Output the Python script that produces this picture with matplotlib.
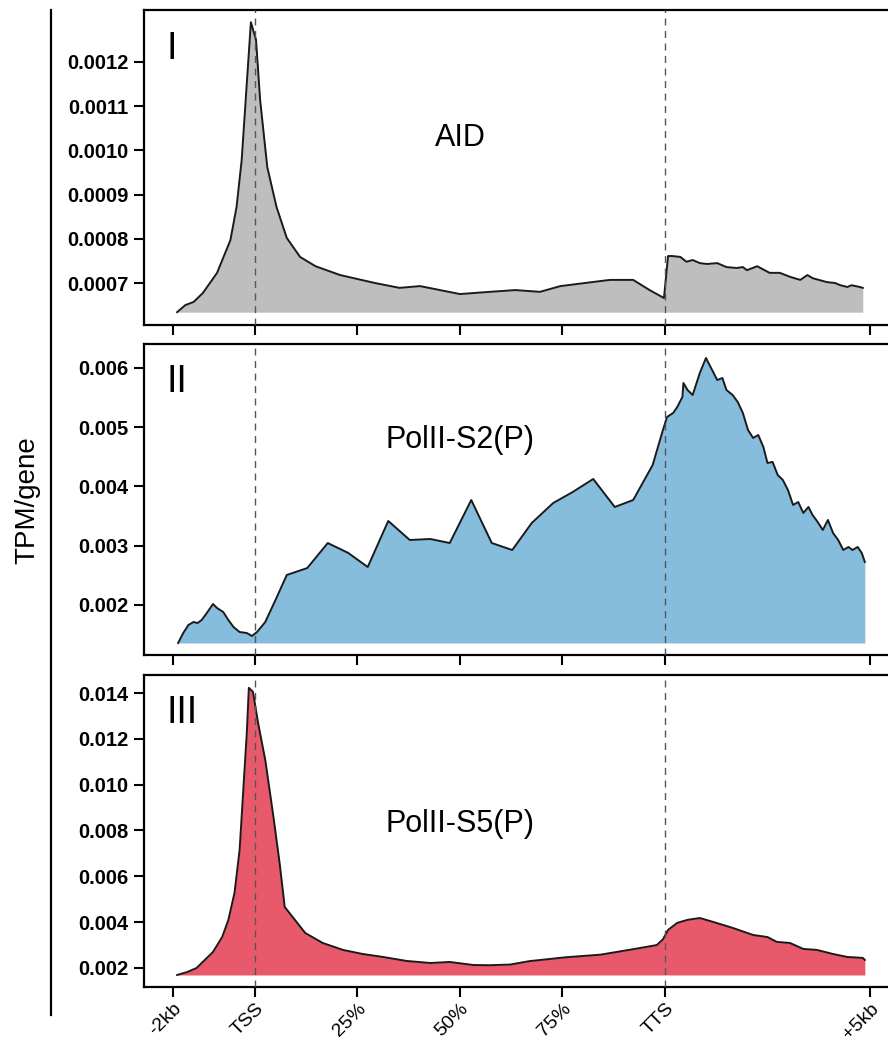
import numpy as np
import matplotlib
matplotlib.use("Agg")
import matplotlib.pyplot as plt
from matplotlib.lines import Line2D

plt.rcParams['font.family'] = ['Liberation Sans', 'DejaVu Sans']

# x positions: TSS = 0, gene body quarters = 1..4 (TTS = 4), -2kb = -0.8, +5kb = 6
tick_pos = [-0.8, 0, 1, 2, 3, 4, 6]
tick_labels = ["-2kb", "TSS", "25%", "50%", "75%", "TTS", "+5kb"]

# panel I : AID
x_aid = [-0.76, -0.68, -0.60, -0.51, -0.37, -0.24, -0.18, -0.13, -0.08, -0.04,
         0.01, 0.05, 0.12, 0.21, 0.31, 0.44, 0.59, 0.83, 1.17, 1.41,
         1.61, 2.00, 2.29, 2.54, 2.78, 2.98, 3.22, 3.46, 3.69, 3.85,
         3.99, 4.03, 4.07, 4.15, 4.21, 4.27, 4.34, 4.41, 4.51, 4.60,
         4.70, 4.76, 4.80, 4.90, 5.02, 5.12, 5.22, 5.32, 5.39, 5.44,
         5.58, 5.66, 5.71, 5.78, 5.82, 5.90, 5.93]
y_aid = [0.000634, 0.000650, 0.000657, 0.000677, 0.000723, 0.000797, 0.000872, 0.000978, 0.001152, 0.001290,
         0.001250, 0.001114, 0.000962, 0.000872, 0.000802, 0.000759, 0.000738, 0.000718, 0.000700, 0.000689,
         0.000693, 0.000675, 0.000680, 0.000684, 0.000680, 0.000693, 0.000700, 0.000707, 0.000707, 0.000684,
         0.000666, 0.000761, 0.000761, 0.000759, 0.000748, 0.000752, 0.000745, 0.000743, 0.000745, 0.000736,
         0.000734, 0.000736, 0.000729, 0.000738, 0.000723, 0.000723, 0.000714, 0.000707, 0.000718, 0.000711,
         0.000702, 0.000700, 0.000695, 0.000691, 0.000695, 0.000691, 0.000689]

# panel II : PolII-S2(P)
x_s2 = [-0.75, -0.70, -0.65, -0.60, -0.56, -0.52, -0.47, -0.41, -0.37, -0.31,
        -0.26, -0.21, -0.15, -0.08, -0.03, 0.02, 0.10, 0.20, 0.31, 0.51,
        0.71, 0.91, 1.10, 1.30, 1.51, 1.71, 1.90, 2.11, 2.31, 2.51,
        2.70, 2.91, 3.10, 3.30, 3.51, 3.69, 3.88, 3.98, 4.02, 4.05,
        4.08, 4.12, 4.17, 4.18, 4.22, 4.27, 4.34, 4.40, 4.46, 4.51,
        4.56, 4.60, 4.66, 4.71, 4.76, 4.81, 4.86, 4.91, 4.96, 5.00,
        5.05, 5.10, 5.15, 5.20, 5.25, 5.30, 5.35, 5.40, 5.44, 5.49,
        5.54, 5.59, 5.64, 5.69, 5.74, 5.79, 5.83, 5.88, 5.92, 5.95]
y_s2 = [0.001359, 0.001527, 0.001662, 0.001713, 0.001696, 0.001747, 0.001865, 0.002017, 0.001949, 0.001882,
        0.001747, 0.001629, 0.001544, 0.001527, 0.001477, 0.001544, 0.001713, 0.002084, 0.002506, 0.002624,
        0.003046, 0.002878, 0.002641, 0.003418, 0.003097, 0.003114, 0.003046, 0.003772, 0.003046, 0.002928,
        0.003384, 0.003722, 0.003907, 0.004127, 0.003654, 0.003772, 0.004363, 0.004954, 0.005173, 0.005207,
        0.005241, 0.005342, 0.005511, 0.005747, 0.005629, 0.005544, 0.005916, 0.006169, 0.005966, 0.005797,
        0.005831, 0.005629, 0.005544, 0.005426, 0.005241, 0.004954, 0.004819, 0.004869, 0.004667, 0.004397,
        0.004414, 0.004194, 0.004110, 0.003941, 0.003688, 0.003738, 0.003553, 0.003654, 0.003519, 0.003401,
        0.003266, 0.003435, 0.003215, 0.003097, 0.002928, 0.002979, 0.002928, 0.002979, 0.002878, 0.002726]

# panel III : PolII-S5(P)
x_s5 = [-0.76, -0.66, -0.57, -0.49, -0.41, -0.32, -0.26, -0.20, -0.15, -0.11,
        -0.08, -0.06, -0.02, 0.03, 0.10, 0.18, 0.24, 0.29, 0.39, 0.49,
        0.66, 0.86, 1.05, 1.25, 1.48, 1.71, 1.90, 2.13, 2.29, 2.49,
        2.68, 3.04, 3.37, 3.69, 3.92, 3.98, 4.03, 4.12, 4.22, 4.34,
        4.47, 4.66, 4.86, 5.00, 5.09, 5.22, 5.35, 5.48, 5.64, 5.78,
        5.93, 5.95]
y_s5 = [0.001694, 0.001825, 0.002000, 0.002349, 0.002699, 0.003354, 0.004096, 0.005275, 0.007153, 0.010079,
        0.012262, 0.014227, 0.014052, 0.012699, 0.011083, 0.008594, 0.006585, 0.004664, 0.004096, 0.003528,
        0.003092, 0.002786, 0.002611, 0.002480, 0.002306, 0.002218, 0.002262, 0.00213, 0.00212, 0.00215,
        0.00230, 0.00247, 0.00258, 0.00282, 0.00300, 0.00325, 0.00366, 0.00397, 0.00410, 0.00418,
        0.00401, 0.00375, 0.00344, 0.00335, 0.00314, 0.00309, 0.00283, 0.00279, 0.00261, 0.00248,
        0.00244, 0.00235]

panels = [
    ("I", "AID", x_aid, y_aid, "#bebebe",
     [0.0007, 0.0008, 0.0009, 0.0010, 0.0011, 0.0012], "%.4f", (0.000605, 0.0013176), 0.568),
    ("II", "PolII-S2(P)", x_s2, y_s2, "#86bcdc",
     [0.002, 0.003, 0.004, 0.005, 0.006], "%.3f", (0.001156, 0.006405), 0.666),
    ("III", "PolII-S5(P)", x_s5, y_s5, "#e85a6b",
     [0.002, 0.004, 0.006, 0.008, 0.010, 0.012, 0.014], "%.3f", (0.00117, 0.014786), 0.497),
]

W, H = 888, 1043
fig = plt.figure(figsize=(W / 100, H / 100), dpi=100)

# axes boxes in pixels: (top, bottom)
boxes = [(10, 325), (344, 655), (675, 987)]
left_px, right_px = 144, 892

for i, (num, name, xs, ys, col, yt, fmt, ylim, name_y) in enumerate(panels):
    top, bot = boxes[i]
    ax = fig.add_axes([left_px / W, 1 - bot / H, (right_px - left_px) / W, (bot - top) / H])
    xs = np.array(xs)
    ys = np.array(ys)
    ax.fill_between(xs, ys, ys.min(), color=col, lw=0)
    ax.plot(xs, ys, color="#1a1a1a", lw=1.4)
    for xv in (0, 4):
        ax.axvline(xv, color="#555555", lw=1.0, ls=(0, (5, 4)), zorder=3)
    ax.set_xlim(-1.083, 6.215)
    ax.set_ylim(*ylim)
    ax.set_yticks(yt)
    ax.set_yticklabels([fmt % v for v in yt], fontsize=14.5, fontweight="bold")
    ax.set_xticks(tick_pos)
    if i == 2:
        ax.set_xticklabels(tick_labels, fontsize=14, rotation=45, ha="right",
                           rotation_mode="anchor")
    else:
        ax.set_xticklabels([])
    ax.tick_params(direction="out", length=7, width=1.5, pad=4)
    ax.tick_params(axis="x", pad=2.5)
    for s in ("left", "top", "bottom"):
        ax.spines[s].set_linewidth(1.6)
    ax.spines["right"].set_visible(False)
    ax.text(0.03, 0.845, num, transform=ax.transAxes, fontsize=27, ha="left", va="baseline")
    ax.text(2.0, name_y, name, transform=ax.get_xaxis_transform(), fontsize=22,
            ha="center", va="baseline")

# left bracket line and y label
fig.add_artist(Line2D([51 / W, 51 / W], [1 - 10 / H, 1 - 1015 / H], color="black", lw=1.6))
fig.text(27 / W, 1 - 500 / H, "TPM/gene", rotation=90, fontsize=20, ha="center", va="center")

fig.savefig("out.png", dpi=100)
